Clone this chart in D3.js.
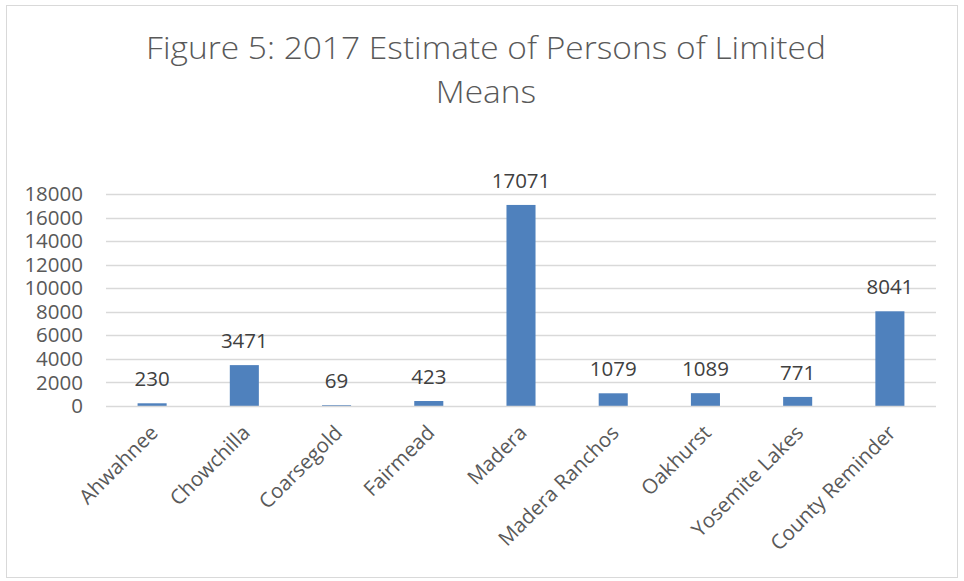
<!DOCTYPE html>
<html>
<head>
<meta charset="utf-8">
<script src="https://cdn.jsdelivr.net/npm/d3@7"></script>
<style>
  body { margin: 0; background: #fff; }
  text { font-family: "Open Sans", sans-serif; }
</style>
</head>
<body>
<div id="chart"></div>
<script>
// data
const places = ["Ahwahnee", "Chowchilla", "Coarsegold", "Fairmead", "Madera",
    "Madera Ranchos", "Oakhurst", "Yosemite Lakes", "County Reminder"];
const persons = [230, 3471, 69, 423, 17071, 1079, 1089, 771, 8041];
const yTicks = [0, 2000, 4000, 6000, 8000, 10000, 12000, 14000, 16000, 18000];
const titleLines = ["Figure 5: 2017 Estimate of Persons of Limited", "Means"];

const width = 964, height = 581;
const plot = {left: 106, right: 936, top: 194, bottom: 406};

const svg = d3.select("#chart").append("svg")
    .attr("width", width)
    .attr("height", height);

// outer frame
svg.append("rect")
    .attr("x", 6.5).attr("y", 5.5)
    .attr("width", 951).attr("height", 572)
    .attr("fill", "#fff")
    .attr("stroke", "#d9d9d9");

// title, squeezed a bit to look like Calibri Light
const title = svg.append("g");
title.selectAll("text")
    .data(titleLines)
    .enter().append("text")
    .attr("x", 0)
    .attr("y", (d, i) => i * 44)
    .attr("text-anchor", "middle")
    .attr("font-size", 31)
    .attr("font-weight", 300)
    .attr("fill", "#595959")
    .text(d => d);
const w0 = title.select("text").node().getComputedTextLength();
const sx = 680 / w0;
title.attr("transform", `translate(486, 59) scale(${sx}, 1)`);

const x = d3.scaleBand()
    .domain(places)
    .range([plot.left, plot.right])
    .paddingInner(0.685)
    .paddingOuter(0.3425);

const y = d3.scaleLinear()
    .domain([0, 18000])
    .range([plot.bottom, plot.top]);

// gridlines
svg.append("g")
    .selectAll("line")
    .data(yTicks.slice(1))
    .enter().append("line")
    .attr("x1", plot.left).attr("x2", plot.right)
    .attr("y1", d => Math.round(y(d)) + 0.5)
    .attr("y2", d => Math.round(y(d)) + 0.5)
    .attr("stroke", "#d9d9d9")
    .attr("stroke-width", 1.3);

// y axis labels only (no line)
const yAxis = svg.append("g")
    .attr("transform", `translate(${plot.left - 23}, 0)`)
    .call(d3.axisLeft(y).tickValues(yTicks).tickFormat(d3.format("d")).tickSize(0).tickPadding(0));
yAxis.select(".domain").remove();
yAxis.selectAll("text")
    .attr("font-family", "Open Sans, sans-serif")
    .attr("font-size", 20.5)
    .attr("fill", "#595959");

// bars
svg.append("g")
    .selectAll("rect")
    .data(places)
    .enter().append("rect")
    .attr("x", d => x(d))
    .attr("width", x.bandwidth())
    .attr("y", (d, i) => y(persons[i]))
    .attr("height", (d, i) => y(0) - y(persons[i]))
    .attr("fill", "#4f81bd");

// category axis line
svg.append("line")
    .attr("x1", plot.left).attr("x2", plot.right)
    .attr("y1", y(0) + 0.5).attr("y2", y(0) + 0.5)
    .attr("stroke", "#d9d9d9")
    .attr("stroke-width", 1.5);

// value labels
svg.append("g")
    .selectAll("text")
    .data(places)
    .enter().append("text")
    .attr("x", d => x(d) + x.bandwidth() / 2)
    .attr("y", (d, i) => y(persons[i]) - 17)
    .attr("text-anchor", "middle")
    .attr("font-size", 20.5)
    .attr("fill", "#404040")
    .text((d, i) => persons[i]);

// category labels at -45 degrees
svg.append("g")
    .selectAll("text")
    .data(places)
    .enter().append("text")
    .attr("transform", d => `translate(${x(d) + x.bandwidth() / 2 + 7}, 434) rotate(-45)`)
    .attr("text-anchor", "end")
    .attr("font-size", 20.5)
    .attr("fill", "#595959")
    .text(d => d);
</script>
</body>
</html>
